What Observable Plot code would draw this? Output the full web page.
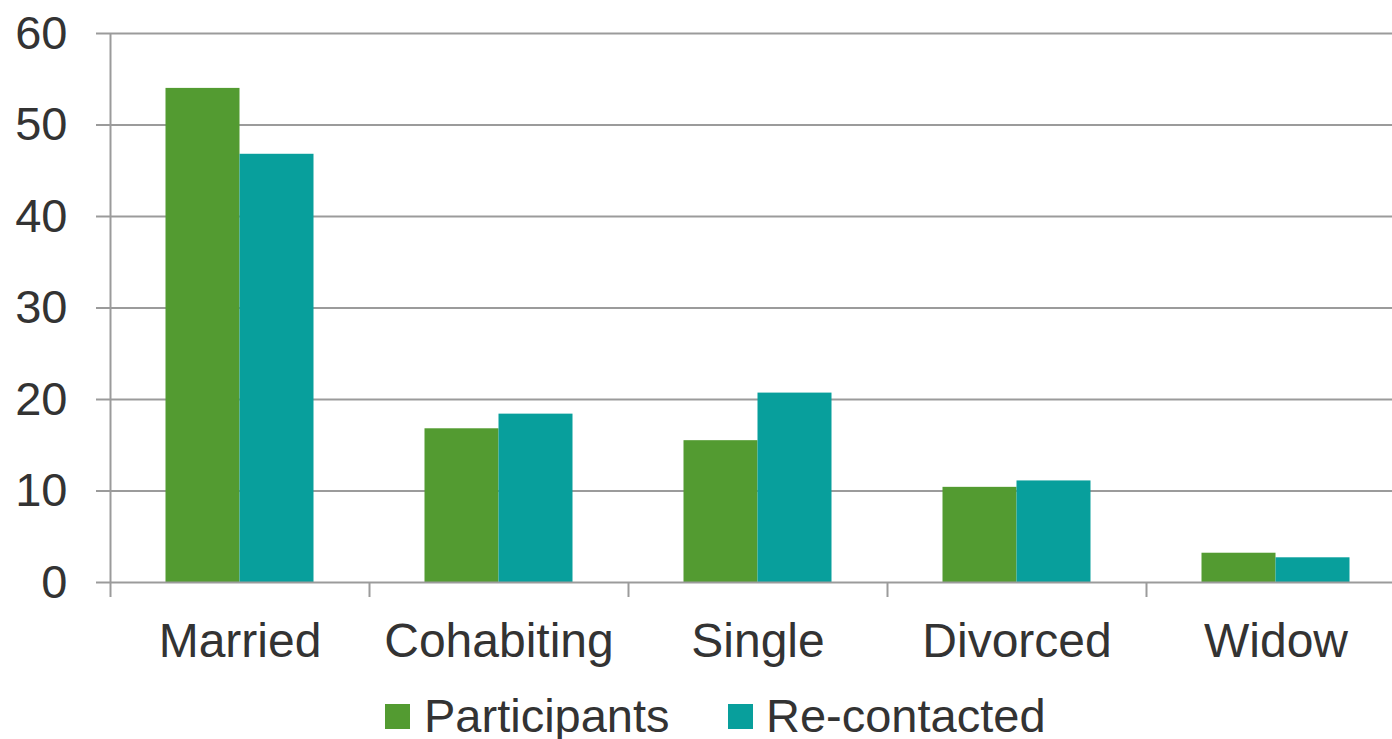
<!DOCTYPE html>
<html><head><meta charset="utf-8">
<script src="https://cdn.jsdelivr.net/npm/d3@7"></script>
<script src="https://cdn.jsdelivr.net/npm/@observablehq/plot@0.6"></script>
<style>
html,body{margin:0;padding:0;background:#fff;overflow:hidden;width:1392px;height:739px;}
#wrap{position:relative;width:1392px;height:739px;font-family:"Liberation Sans",Arial,sans-serif;}
#chart{position:absolute;left:0;top:0;}
.sw{position:absolute;width:25px;height:25px;top:704px;}
.lt{position:absolute;top:692px;font-size:47px;line-height:47px;color:#333;white-space:nowrap;}
</style></head><body><div id="wrap"><div id="chart"></div></div>
<script>
const categories = ["Married","Cohabiting","Single","Divorced","Widow"];
const series = ["Participants","Re-contacted"];
const participants = [54.0,16.8,15.5,10.4,3.2];
const recontacted = [46.8,18.4,20.7,11.1,2.7];
const yTicks = [0,10,20,30,40,50,60];
const colors = ["#539B31","#089F9C"];

const dataP = categories.map((c,i)=>({category:c, series:series[0], value:participants[i]}));
const dataR = categories.map((c,i)=>({category:c, series:series[1], value:recontacted[i]}));
const grid = "#9b9b9b";

const chart = Plot.plot({
  width:1392, height:680, marginTop:33, marginBottom:98, marginLeft:110, marginRight:-13,
  style:{fontFamily:"Liberation Sans, Arial, sans-serif", color:"#333", background:"transparent", overflow:"visible"},
  x:{domain:categories, padding:0, label:null, axis:null},
  y:{domain:[0,60], label:null, axis:null},
  color:{domain:series, range:colors},
  marks:[
    Plot.ruleY(yTicks.slice(1), {stroke:grid, strokeWidth:2, insetLeft:-14}),
    Plot.barY(dataP, {x:"category", y:"value", fill:"series", insetLeft:55.5, insetRight:129.5}),
    Plot.barY(dataR, {x:"category", y:"value", fill:"series", insetLeft:129.5, insetRight:55.5}),
    Plot.ruleY([0], {stroke:grid, strokeWidth:2, insetLeft:-14}),
    Plot.ruleX(categories.slice(0,1), {x:d=>d, dx:-129.5, stroke:grid, strokeWidth:2, insetBottom:-15}),
    Plot.ruleX(categories.slice(1), {x:d=>d, dx:-129.5, stroke:grid, strokeWidth:2, insetTop:549, insetBottom:-15}),
    Plot.axisY({ticks:yTicks, tickSize:0, tickPadding:43, fontSize:47, fill:"#333", label:null}),
    Plot.axisX({tickSize:0, tickPadding:40, fontSize:48, fill:"#333", label:null})
  ]
});
document.getElementById("chart").appendChild(chart);

const wrap = document.getElementById("wrap");
const legendPos = [{sw:385, tx:424},{sw:728, tx:766}];
series.forEach((s,i)=>{
  const sw = document.createElement("div");
  sw.className = "sw"; sw.style.left = legendPos[i].sw + "px"; sw.style.background = colors[i];
  const t = document.createElement("div");
  t.className = "lt"; t.style.left = legendPos[i].tx + "px"; t.textContent = s;
  wrap.appendChild(sw); wrap.appendChild(t);
});
</script></body></html>
